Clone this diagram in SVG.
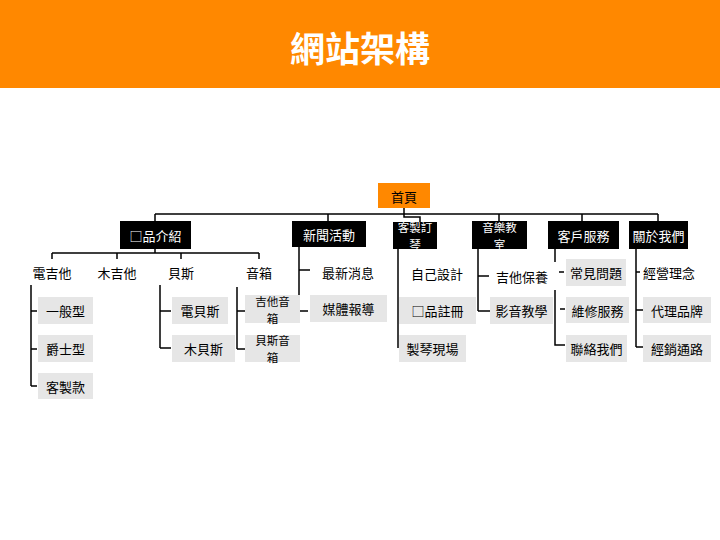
<svg xmlns="http://www.w3.org/2000/svg" width="720" height="540" viewBox="0 0 720 540">
<style>
.t{font-family:"Noto Sans CJK TC","Noto Sans",sans-serif;font-size:13px;fill:#000;text-anchor:middle;dominant-baseline:central}
.tw{font-family:"Noto Sans CJK TC","Noto Sans",sans-serif;font-size:13px;fill:#fff;text-anchor:middle;dominant-baseline:central}
.s{font-size:11.5px}
.bk{fill:#000}
.gy{fill:#e6e6e6}
.ln{stroke:#000;stroke-width:1.5;fill:none}
</style>
<rect x="0" y="0" width="720" height="540" fill="#fff"/>
<g id="header">
<rect x="0" y="0" width="720" height="88" fill="#ff8800"/>
<text x="360" y="46" font-family="'Noto Sans CJK TC',sans-serif" font-size="35" font-weight="bold" fill="#fff" text-anchor="middle" dominant-baseline="central">網站架構</text>
</g>
<g id="connectors" class="ln">
<path d="M404 208V214M155 214H658M155 214V221M328 214V221M499 214V221M582 214V221M658 214V221M404 214V217H420V222"/>
<path d="M155 249V253M52 253H259M52 253V259M117 253V259M181 253V259M259 253V259"/>
<path d="M31 285V386M31 311H37M31 349H37M31 386H37"/>
<path d="M160 285V348M160 311H171M160 348H171"/>
<path d="M237 287V349M237 311H245M237 349H245"/>
<path d="M299 247V297M299 270H310M290 311H308"/>
<path d="M398 249V348"/>
<path d="M478 249V311M478 276H489M478 311H490"/>
<path d="M555 249V262M559 272H564M555 290V345H565M560 309H565"/>
<path d="M636 249V347M636 272H640M636 310H643M636 347H643"/>
</g>
<g id="home"><rect x="378" y="183" width="52" height="25" fill="#ff8800"/><text class="t" x="404" y="196" fill="#222">首頁</text></g>
<g id="prod"><rect class="bk" x="120" y="221" width="71" height="28"/><text class="tw" x="155.5" y="235">□品介紹</text></g>
<g id="news"><rect class="bk" x="292" y="221" width="74" height="26"/><text class="tw" x="329" y="234">新聞活動</text></g>
<g id="custom"><rect class="bk" x="393" y="222" width="44" height="27"/><text class="tw s" x="415" y="227">客製訂<tspan x="415" dy="17">琴</tspan></text></g>
<g id="school"><rect class="bk" x="472" y="221" width="55" height="28"/><text class="tw s" x="499.5" y="226.5">音樂教<tspan x="499.5" dy="17">室</tspan></text></g>
<g id="service"><rect class="bk" x="548" y="221" width="71" height="28"/><text class="tw" x="583.5" y="235">客戶服務</text></g>
<g id="about"><rect class="bk" x="629" y="221" width="59" height="28"/><text class="tw" x="658.5" y="235">關於我們</text></g>
<g id="eguitar"><text class="t" x="52" y="272">電吉他</text></g>
<g id="aguitar"><text class="t" x="117" y="272">木吉他</text></g>
<g id="bass"><text class="t" x="181" y="272">貝斯</text></g>
<g id="amp"><text class="t" x="259" y="272">音箱</text></g>
<g id="normal"><rect class="gy" x="38" y="297" width="55" height="27"/><text class="t" x="65.5" y="310.5">一般型</text></g>
<g id="jazz"><rect class="gy" x="38" y="335" width="55" height="27"/><text class="t" x="65.5" y="348.5">爵士型</text></g>
<g id="customg"><rect class="gy" x="38" y="373" width="55" height="26"/><text class="t" x="65.5" y="386">客製款</text></g>
<g id="ebass"><rect class="gy" x="172" y="297" width="56" height="27"/><text class="t" x="200" y="310.5">電貝斯</text></g>
<g id="abass"><rect class="gy" x="172" y="335" width="63" height="27"/><text class="t" x="203.5" y="348.5">木貝斯</text></g>
<g id="gamp"><rect class="gy" x="245" y="295" width="55" height="28"/><text class="t s" x="272.5" y="300.5">吉他音<tspan x="272.5" dy="17">箱</tspan></text></g>
<g id="bamp"><rect class="gy" x="245" y="335" width="55" height="27"/><text class="t s" x="272.5" y="340">貝斯音<tspan x="272.5" dy="17">箱</tspan></text></g>
<g id="latest"><text class="t" x="348" y="272">最新消息</text></g>
<g id="media"><rect class="gy" x="310" y="295" width="77" height="27"/><text class="t" x="348.5" y="308.5">媒體報導</text></g>
<g id="design"><text class="t" x="437" y="273">自己設計</text></g>
<g id="register"><rect class="gy" x="399" y="297" width="77" height="27"/><text class="t" x="437.5" y="310.5">□品註冊</text></g>
<g id="factory"><rect class="gy" x="399" y="335" width="67" height="27"/><text class="t" x="432.5" y="348.5">製琴現場</text></g>
<g id="care"><text class="t" x="522" y="276">吉他保養</text></g>
<g id="video"><rect class="gy" x="490" y="297" width="63" height="27"/><text class="t" x="521.5" y="310.5">影音教學</text></g>
<g id="faq"><rect class="gy" x="566" y="259" width="60" height="27"/><text class="t" x="596" y="272.5">常見問題</text></g>
<g id="repair"><rect class="gy" x="566" y="297" width="63" height="26"/><text class="t" x="597.5" y="310">維修服務</text></g>
<g id="contact"><rect class="gy" x="566" y="335" width="61" height="27"/><text class="t" x="596.5" y="348.5">聯絡我們</text></g>
<g id="idea"><text class="t" x="669" y="272">經營理念</text></g>
<g id="brand"><rect class="gy" x="643" y="297" width="68" height="26"/><text class="t" x="677" y="310">代理品牌</text></g>
<g id="dealer"><rect class="gy" x="643" y="335" width="68" height="27"/><text class="t" x="677" y="348.5">經銷通路</text></g>
</svg>
